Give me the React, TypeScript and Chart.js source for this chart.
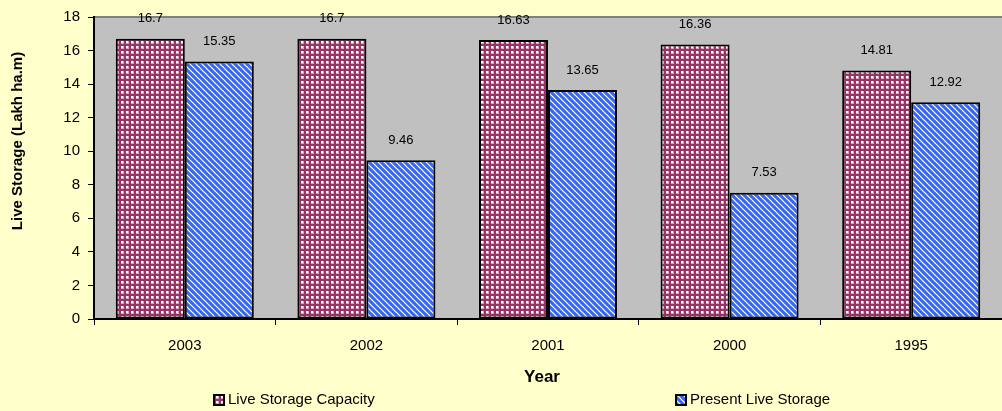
import React, { useEffect, useRef } from 'react';
import { Chart, registerables } from 'chart.js';

Chart.register(...registerables);

const categories = ['2003', '2002', '2001', '2000', '1995'];
const liveStorageCapacity = [16.7, 16.7, 16.63, 16.36, 14.81];
const presentLiveStorage = [15.35, 9.46, 13.65, 7.53, 12.92];
const seriesNames = ['Live Storage Capacity', 'Present Live Storage'];
const yMin = 0;
const yMax = 18;
const yStep = 2;
const xTitle = 'Year';
const yTitle = 'Live Storage (Lakh ha.m)';

const FONT = "'Liberation Sans', Arial, sans-serif";

function makeChecker(): CanvasPattern | string {
  const n = 5;
  const c = document.createElement('canvas');
  c.width = n;
  c.height = n;
  const g = c.getContext('2d');
  if (!g) return '#993366';
  g.fillStyle = '#993366';
  g.fillRect(0, 0, n, n);
  g.fillStyle = '#d8a8c0';
  g.fillRect(1, 1, 3, 3);
  g.fillStyle = '#ffffff';
  g.fillRect(1, 1, 2, 2);
  const p = g.createPattern(c, 'repeat');
  return p || '#993366';
}

function makeStripes(): CanvasPattern | string {
  const n = 6;
  const c = document.createElement('canvas');
  c.width = n;
  c.height = n;
  const g = c.getContext('2d');
  if (!g) return '#3366FF';
  g.fillStyle = '#3366FF';
  g.fillRect(0, 0, n, n);
  g.strokeStyle = '#ffffff';
  g.lineWidth = 1.2;
  for (const off of [-n, 0, n]) {
    g.beginPath();
    g.moveTo(off - 1, -1);
    g.lineTo(off + n + 1, n + 1);
    g.stroke();
  }
  const p = g.createPattern(c, 'repeat');
  return p || '#3366FF';
}

export default function App() {
  const ref = useRef<HTMLCanvasElement>(null);

  useEffect(() => {
    document.body.style.margin = '0';
    document.body.style.background = '#FFFFCC';
    const canvas = ref.current;
    if (!canvas) return;
    const checker = makeChecker();
    const stripes = makeStripes();
    const fills = [checker, stripes];

    const backgroundPlugin = {
      id: 'bgPlot',
      beforeDraw(chart: any) {
        const { ctx, chartArea: a, width, height } = chart;
        ctx.save();
        ctx.fillStyle = '#FFFFCC';
        ctx.fillRect(0, 0, width, height);
        ctx.fillStyle = '#C0C0C0';
        ctx.fillRect(a.left, a.top, a.right - a.left, a.bottom - a.top);
        ctx.strokeStyle = '#808080';
        ctx.lineWidth = 2;
        ctx.beginPath();
        ctx.moveTo(a.left, a.top);
        ctx.lineTo(a.right, a.top);
        ctx.stroke();
        ctx.restore();
      },
    };

    const labelsPlugin = {
      id: 'valueLabels',
      afterDatasetsDraw(chart: any) {
        const { ctx } = chart;
        ctx.save();
        ctx.fillStyle = '#000';
        ctx.font = `13px ${FONT}`;
        ctx.textAlign = 'center';
        ctx.textBaseline = 'middle';
        chart.data.datasets.forEach((ds: any, di: number) => {
          const meta = chart.getDatasetMeta(di);
          meta.data.forEach((el: any, i: number) => {
            ctx.fillText(String(ds.data[i]), el.x, el.y - 20);
          });
        });
        ctx.restore();
      },
    };

    const legendPlugin = {
      id: 'customLegend',
      afterDraw(chart: any) {
        const { ctx } = chart;
        ctx.save();
        const items = [
          { x: 213, label: seriesNames[0], fill: fills[0] },
          { x: 675, label: seriesNames[1], fill: fills[1] },
        ];
        const cy = 400;
        ctx.font = `15px ${FONT}`;
        ctx.textBaseline = 'middle';
        ctx.textAlign = 'left';
        items.forEach((it) => {
          ctx.fillStyle = '#000';
          ctx.fillRect(it.x, cy - 6, 12, 12);
          ctx.fillStyle = it.fill as any;
          ctx.fillRect(it.x + 2, cy - 4, 8, 8);
          ctx.fillStyle = '#000';
          ctx.fillText(it.label, it.x + 15, cy);
        });
        // x axis title
        ctx.textAlign = 'center';
        ctx.font = `bold 17px ${FONT}`;
        ctx.fillText(xTitle, 542, 377);
        // y axis title
        ctx.translate(18, 141);
        ctx.rotate(-Math.PI / 2);
        ctx.font = `bold 15px ${FONT}`;
        ctx.fillText(yTitle, 0, 0);
        ctx.restore();
      },
    };

    const chart = new Chart(canvas, {
      type: 'bar',
      data: {
        labels: categories,
        datasets: [
          {
            label: seriesNames[0],
            data: liveStorageCapacity,
            backgroundColor: checker as any,
            borderColor: '#000',
            borderWidth: 2,
            borderSkipped: false,
            categoryPercentage: 0.76,
            barPercentage: 1,
          },
          {
            label: seriesNames[1],
            data: presentLiveStorage,
            backgroundColor: stripes as any,
            borderColor: '#000',
            borderWidth: 2,
            borderSkipped: false,
            categoryPercentage: 0.76,
            barPercentage: 1,
          },
        ],
      },
      options: {
        responsive: false,
        animation: false,
        devicePixelRatio: 1,
        layout: { padding: { top: 16, left: 0, right: 0, bottom: 0 } },
        plugins: {
          legend: { display: false },
          tooltip: { enabled: false },
        },
        scales: {
          x: {
            offset: true,
            grid: {
              offset: true,
              drawOnChartArea: false,
              drawTicks: true,
              tickLength: 6,
              color: '#000',
            },
            border: { display: true, color: '#000', width: 2 },
            ticks: {
              color: '#000',
              font: { family: FONT, size: 15 },
              padding: 12,
            },
            afterFit(s: any) {
              s.height = 92;
            },
          },
          y: {
            min: yMin,
            max: yMax,
            ticks: {
              stepSize: yStep,
              color: '#000',
              font: { family: FONT, size: 15 },
              padding: 8,
            },
            grid: {
              drawOnChartArea: false,
              drawTicks: true,
              tickLength: 6,
              color: '#000',
            },
            border: { display: true, color: '#000', width: 2 },
            afterFit(s: any) {
              s.width = 94;
            },
          },
        },
      },
      plugins: [backgroundPlugin, labelsPlugin, legendPlugin],
    });

    return () => chart.destroy();
  }, []);

  return (
    <div style={{ width: 1002, height: 411 }}>
      <canvas ref={ref} width={1002} height={411} style={{ display: 'block' }} />
    </div>
  );
}
